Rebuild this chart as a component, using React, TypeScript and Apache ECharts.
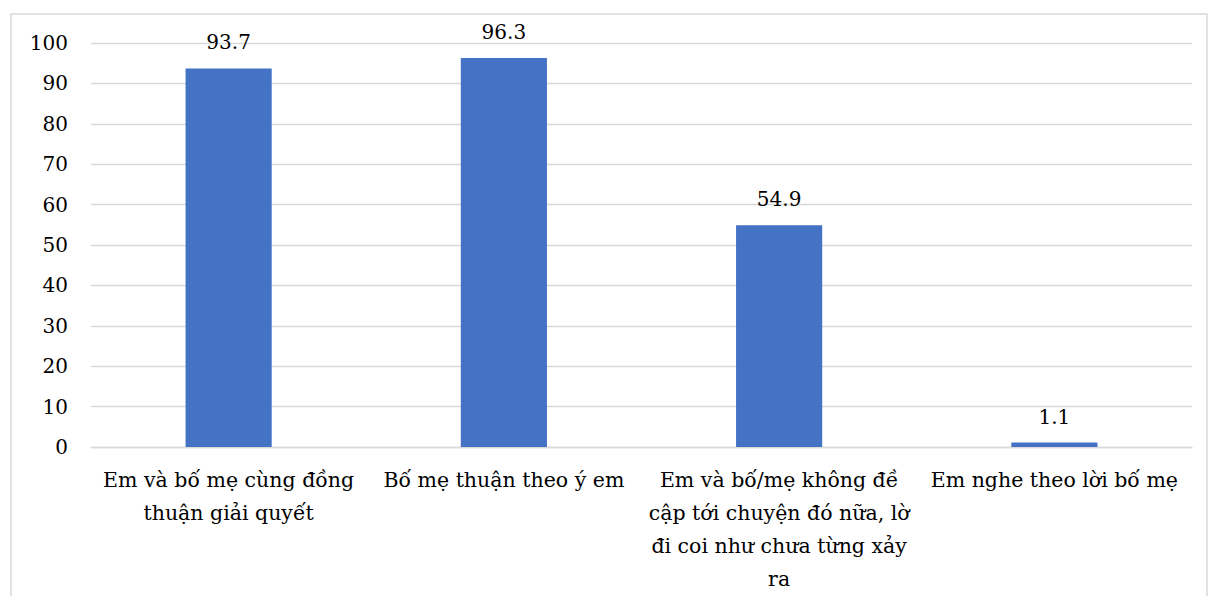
import React, { useEffect, useRef } from "react";
import * as echarts from "echarts";

const categories = [
  "Em và bố mẹ cùng đồng\nthuận giải quyết",
  "Bố mẹ thuận theo ý em",
  "Em và bố/mẹ không đề\ncập tới chuyện đó nữa, lờ\nđi coi như chưa từng xảy\nra",
  "Em nghe theo lời bố mẹ",
];
const values = [93.7, 96.3, 54.9, 1.1];
const yTicks = { min: 0, max: 100, interval: 10 };

const FONT = "DejaVu Serif";

export default function App() {
  const ref = useRef<HTMLDivElement>(null);
  useEffect(() => {
    if (!ref.current) return;
    const chart = echarts.init(ref.current, undefined, { renderer: "svg" });
    chart.setOption({
      animation: false,
      backgroundColor: "#ffffff",
      textStyle: { fontFamily: FONT },
      graphic: [
        {
          type: "rect",
          shape: { x: 11, y: 14, width: 1196, height: 620 },
          style: { fill: "none", stroke: "#d9d9d9", lineWidth: 1.5 },
          silent: true,
        },
      ],
      grid: { left: 91, right: 18, top: 43, bottom: 149 },
      xAxis: {
        type: "category",
        data: categories,
        axisLine: { show: true, lineStyle: { color: "#d9d9d9", width: 1.3 } },
        axisTick: { show: false },
        axisLabel: {
          interval: 0,
          color: "#000",
          fontFamily: FONT,
          fontSize: 20.5,
          lineHeight: 33,
          margin: 16,
        },
      },
      yAxis: {
        type: "value",
        min: yTicks.min,
        max: yTicks.max,
        interval: yTicks.interval,
        axisLine: { show: false },
        axisTick: { show: false },
        splitLine: { lineStyle: { color: "#d9d9d9", width: 1.3 } },
        axisLabel: {
          color: "#000",
          fontFamily: FONT,
          fontSize: 20,
          margin: 23,
        },
      },
      series: [
        {
          type: "bar",
          data: values,
          barWidth: "31.3%",
          itemStyle: { color: "#4472C4" },
          label: {
            show: true,
            position: "top",
            distance: 16,
            color: "#000",
            fontFamily: FONT,
            fontSize: 20,
            formatter: (p: any) => String(p.value),
          },
        },
      ],
    });
    return () => chart.dispose();
  }, []);
  return (
    <div
      ref={ref}
      style={{ position: "fixed", left: 0, top: 0, width: 1210, height: 596 }}
    />
  );
}
